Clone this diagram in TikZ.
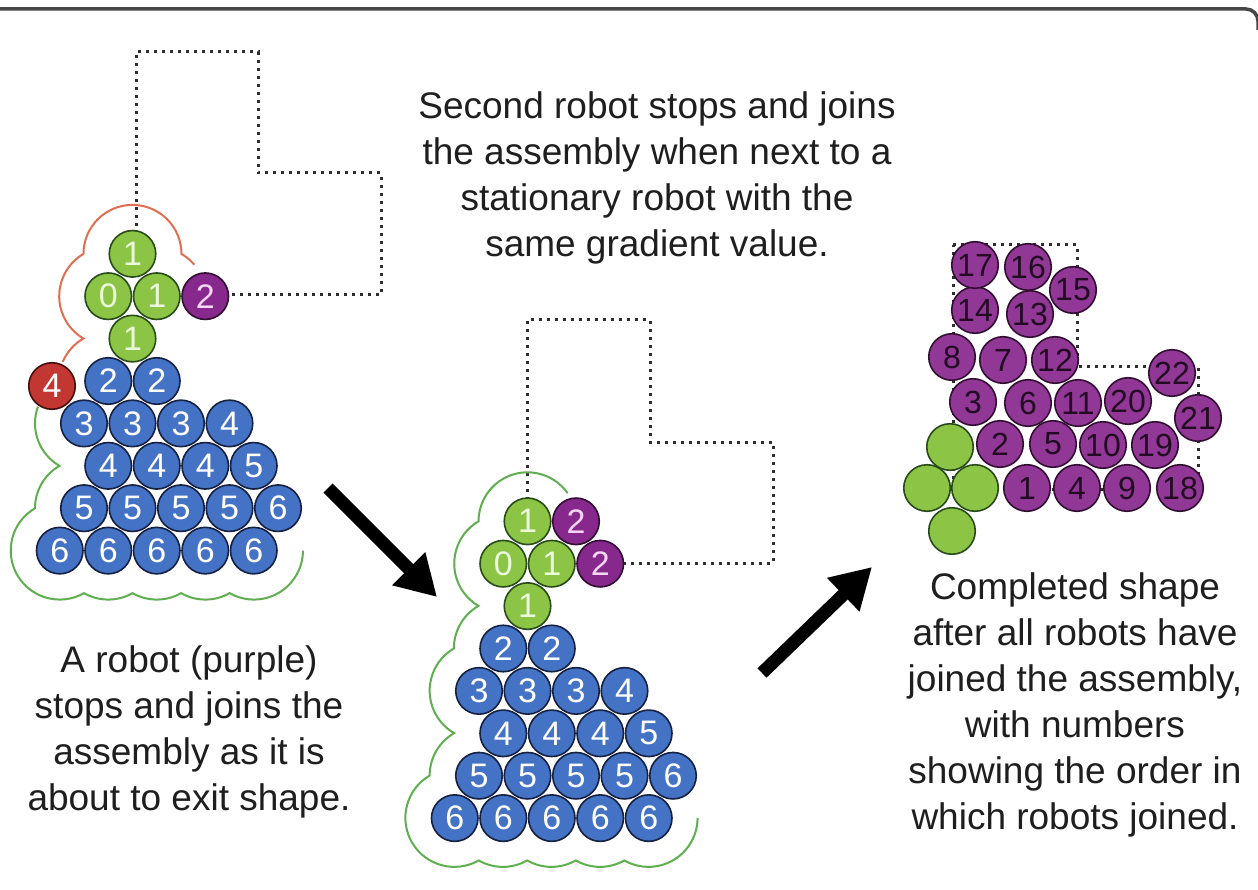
\documentclass[tikz,border=0pt]{standalone}
\usepackage{fontspec}
\setmainfont{Liberation Sans}
\usetikzlibrary{arrows.meta,calc}
\definecolor{robgreen}{RGB}{140,196,70}
\definecolor{greendark}{RGB}{40,75,25}
\definecolor{robblue}{RGB}{68,114,196}
\definecolor{bluedark}{RGB}{22,32,65}
\definecolor{robpurple}{RGB}{135,40,140}
\definecolor{robpurpleb}{RGB}{145,55,150}
\definecolor{purpledark}{RGB}{50,15,50}
\definecolor{robred}{RGB}{195,55,50}
\definecolor{reddark}{RGB}{70,15,15}
\definecolor{outorange}{RGB}{225,110,80}
\definecolor{outgreen}{RGB}{95,175,80}
\definecolor{txt}{RGB}{30,30,30}
\definecolor{dotc}{RGB}{45,45,45}
\definecolor{framec}{RGB}{70,70,70}
\newcommand\robotcluster[1]{%
  \foreach \id/\nn/\kk/\lab in {a/0/0/2,b/0/1/2,c/1/0/3,d/1/1/3,e/1/2/3,f/1/3/4,g/2/0/4,h/2/1/4,i/2/2/4,j/2/3/5,k/3/0/5,l/3/1/5,m/3/2/5,n/3/3/5,o/3/4/6,p/4/-1/6,q/4/0/6,r/4/1/6,s/4/2/6,t/4/3/6}{%
    \pgfmathsetmacro\xx{(isodd(\nn) ? 84 : 108.25) + 48.5*\kk}%
    \pgfmathsetmacro\yy{381 + 42.4*\nn}%
    \node[bl] (#1\id) at (\xx,\yy) {\lab};
  }%
  \node[gr] (#1gt) at (132.5,253.8) {1};
  \node[gr] (#1gl) at (108.25,296.2) {0};
  \node[gr] (#1gr) at (156.75,296.2) {1};
  \node[gr] (#1gb) at (132.5,338.6) {1};
  \node[pu] (#1pa) at (205.25,296.2) {2};
}
\newcommand\lowergreen{%
  arc[start angle=240,end angle=180,radius=49]
  arc[start angle=239.7,end angle=60.3,radius=49]
  arc[start angle=119.7,end angle=60.3,radius=49]
  arc[start angle=119.7,end angle=60.3,radius=49]
  arc[start angle=119.7,end angle=60.3,radius=49]
  arc[start angle=119.7,end angle=0,radius=49]}
\begin{document}
\begin{tikzpicture}[x=1pt,y=-1pt,
  rob/.style={circle,minimum size=46.5pt,inner sep=0pt,line width=1.6pt,font=\fontsize{34}{34}\selectfont},
  gr/.style={rob,fill=robgreen,draw=greendark,text={rgb,255:red,236;green,250;blue,220}},
  bl/.style={rob,fill=robblue,draw=bluedark,text=white},
  pu/.style={rob,fill=robpurple,draw=purpledark,text={rgb,255:red,245;green,215;blue,245}},
  rd/.style={rob,fill=robred,draw=reddark,text=white},
  pr/.style={rob,fill=robpurpleb,draw=purpledark,text={rgb,255:red,35;green,12;blue,35},font=\fontsize{32}{32}\selectfont},
  prg/.style={rob,fill=robgreen,draw=greendark},
  dotline/.style={draw=dotc,line width=3pt,dash pattern=on 3pt off 5pt},
  orgline/.style={draw=outorange,line width=2pt},
  grnline/.style={draw=outgreen,line width=2pt},
  bigarrow/.style={draw=black,line width=13pt,-{Triangle[length=40pt,width=44pt]}},
  caption/.style={align=center,text=txt,inner sep=0pt,font=\fontsize{37}{46}\selectfont}]
\useasboundingbox (0,0) rectangle (1258,890);
\fill[white] (0,0) rectangle (1258,890);
% frame line at top
\draw[framec,line width=3.5pt] (0,9) -- (1246,9) arc[start angle=270,end angle=360,radius=12] -- (1258,30);

% ---------- panel 1 ----------
\draw[dotline] (136,250) -- (136,52) -- (258,52) -- (258,173) -- (381,173) -- (381,295) -- (205,295);
\draw[orgline] ($(156.75,296.2)+(320:49)$)
  arc[start angle=320,end angle=300.3,radius=49]
  arc[start angle=360,end angle=180,radius=49]
  arc[start angle=239.7,end angle=120.3,radius=49]
  arc[start angle=240.2,end angle=203,radius=49];
\draw[grnline] ($(84,423.4)+(200:49)$)
  arc[start angle=200,end angle=120,radius=49] \lowergreen;
\robotcluster{A}
\node[rd] (Ared) at (52,386) {4};

% ---------- panel 2 ----------
\draw[dotline] (527,500) -- (527,320) -- (650,320) -- (650,442) -- (773,442) -- (773,563) -- (600,563);
\begin{scope}[shift={(395,267.5)}]
\draw[grnline] ($(132.5,253.8)+(325:49)$)
  arc[start angle=325,end angle=180,radius=49]
  arc[start angle=239.7,end angle=120.3,radius=49]
  arc[start angle=240.2,end angle=180,radius=49]
  arc[start angle=239.6,end angle=120,radius=49] \lowergreen;
\robotcluster{B}
\node[pu] (Bpb) at (181,253.8) {2};
\end{scope}

% ---------- panel 3 ----------
\draw[dotline] (953,245) -- (1077,245) -- (1077,367) -- (1198,367) -- (1198,489) -- (953,489) -- cycle;
\node[prg] (Cg1) at (950,447) {};
\node[prg] (Cg2) at (927,488) {};
\node[prg] (Cg3) at (975,488) {};
\node[prg] (Cg4) at (952,531) {};
\foreach \lab/\px/\py in {1/1027/488,2/1000/444,3/973/402,4/1077/488,5/1053/444,6/1028/403,7/1003/360,8/952/357,9/1127/488,10/1103/445,11/1078/403,12/1055/360,13/1030/314,14/975/310,15/1073/290,16/1028/267,17/975/265,18/1180/488,19/1155/445,20/1128/401,21/1198/418,22/1172/373}{
  \node[pr] (C\lab) at (\px,\py) {\lab};
}

% ---------- arrows ----------
\coordinate (a1s) at (328,488);
\coordinate (a1e) at (437,597);
\coordinate (a2s) at (762,673);
\coordinate (a2e) at (872,567);
\draw[bigarrow] (a1s) -- (a1e);
\draw[bigarrow] (a2s) -- (a2e);

% ---------- captions ----------
\node[caption,anchor=north] (capmid) at (657,91) {Second robot stops and joins\\the assembly when next to a\\stationary robot with the\\same gradient value.};
\node[caption,anchor=north] (capleft) at (189,645) {A robot (purple)\\stops and joins the\\assembly as it is\\about to exit shape.};
\node[caption,anchor=north] (capright) at (1075,572) {Completed shape\\after all robots have\\joined the assembly,\\with numbers\\showing the order in\\which robots joined.};
\end{tikzpicture}
\end{document}
